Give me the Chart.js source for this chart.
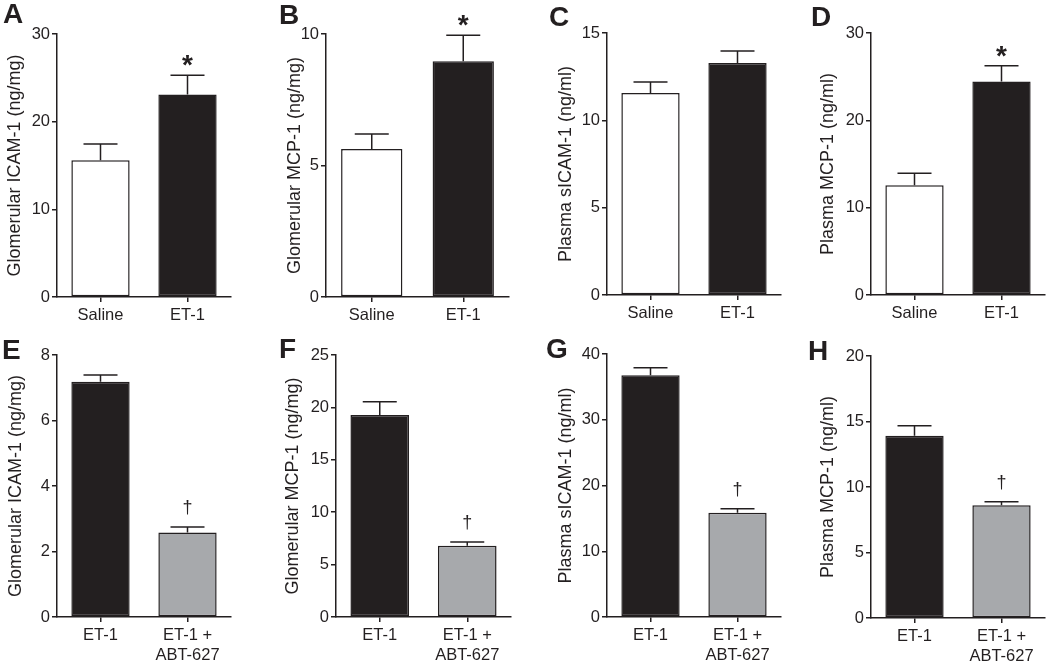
<!DOCTYPE html>
<html>
<head>
<meta charset="utf-8">
<script src="https://cdn.jsdelivr.net/npm/chart.js@4.4.1/dist/chart.umd.min.js"></script>
<style>
  body { margin: 0; background: #fff; width: 1050px; height: 668px; overflow: hidden; position: relative; }
  .box { position: absolute; }
  .tag { position: absolute; font: bold 28px "Liberation Sans", Arial, sans-serif; line-height: 1; color: #231f20; }
</style>
</head>
<body>
<script>
// groups on the x axis
const topGroups = ['Saline', 'ET-1'];
const bottomGroups = ['ET-1', ['ET-1 +', 'ABT-627']];

// means and SEM
const glomIcamMean = [15.6, 23.1];   const glomIcamSem = [1.85, 2.2];
const glomMcpMean = [5.63, 8.96];    const glomMcpSem = [0.57, 0.99];
const plasIcamMean = [11.56, 13.28]; const plasIcamSem = [0.64, 0.69];
const plasMcpMean = [12.58, 24.45];  const plasMcpSem = [1.37, 1.8];
const abtGlomIcamMean = [7.18, 2.58];  const abtGlomIcamSem = [0.21, 0.17];
const abtGlomMcpMean = [19.27, 6.81];  const abtGlomMcpSem = [1.28, 0.35];
const abtPlasIcamMean = [36.75, 15.84]; const abtPlasIcamSem = [1.15, 0.61];
const abtPlasMcpMean = [13.91, 8.6];   const abtPlasMcpSem = [0.76, 0.28];

// axis maxima / steps
const yMax = [30, 10, 15, 30, 8, 25, 40, 20];
const yStep = [10, 5, 5, 10, 2, 5, 10, 5];

const titles = [
  'Glomerular ICAM-1 (ng/mg)', 'Glomerular MCP-1 (ng/mg)', 'Plasma sICAM-1 (ng/ml)', 'Plasma MCP-1 (ng/ml)',
  'Glomerular ICAM-1 (ng/mg)', 'Glomerular MCP-1 (ng/mg)', 'Plasma sICAM-1 (ng/ml)', 'Plasma MCP-1 (ng/ml)'
];
const letters = ['A', 'B', 'C', 'D', 'E', 'F', 'G', 'H'];
const topMarks = ['', '*'];
const bottomMarks = ['', '†'];

const INK = '#231f20';
const FONT = '"Liberation Sans", Arial, sans-serif';

// where each panel sits on the page
const boxes = [
  { L: 0,   top: 0,   axisX: 57,  axisEnd: 232,  topY: 34,  zeroY: 297 },
  { L: 280, top: 0,   axisX: 326, axisEnd: 510,  topY: 34,  zeroY: 297 },
  { L: 551, top: 0,   axisX: 607, axisEnd: 782,  topY: 33,  zeroY: 295 },
  { L: 813, top: 0,   axisX: 871, axisEnd: 1046, topY: 33,  zeroY: 295 },
  { L: 1,   top: 334, axisX: 57,  axisEnd: 232,  topY: 355, zeroY: 617 },
  { L: 278, top: 334, axisX: 336, axisEnd: 512,  topY: 355, zeroY: 617 },
  { L: 551, top: 334, axisX: 607, axisEnd: 782,  topY: 354, zeroY: 617 },
  { L: 813, top: 334, axisX: 871, axisEnd: 1046, topY: 356, zeroY: 618 }
];
const tagPos = [[3, 0], [279, 1], [549, 3], [811, 3], [2, 336], [279, 335], [546, 335], [808, 337]];

const panels = [
  { groups: topGroups, mean: glomIcamMean, sem: glomIcamSem, marks: topMarks },
  { groups: topGroups, mean: glomMcpMean, sem: glomMcpSem, marks: topMarks },
  { groups: topGroups, mean: plasIcamMean, sem: plasIcamSem, marks: ['', ''] },
  { groups: topGroups, mean: plasMcpMean, sem: plasMcpSem, marks: topMarks },
  { groups: bottomGroups, mean: abtGlomIcamMean, sem: abtGlomIcamSem, marks: bottomMarks },
  { groups: bottomGroups, mean: abtGlomMcpMean, sem: abtGlomMcpSem, marks: bottomMarks },
  { groups: bottomGroups, mean: abtPlasIcamMean, sem: abtPlasIcamSem, marks: bottomMarks },
  { groups: bottomGroups, mean: abtPlasMcpMean, sem: abtPlasMcpSem, marks: bottomMarks }
];

// error bars + significance marks
const errorBars = {
  id: 'errorBars',
  afterDatasetsDraw(chart, args, opts) {
    const ctx = chart.ctx;
    const y = chart.scales.y;
    const meta = chart.getDatasetMeta(0);
    ctx.save();
    ctx.strokeStyle = INK;
    ctx.lineWidth = 1.5;
    meta.data.forEach((bar, i) => {
      const yt = y.getPixelForValue(opts.mean[i] + opts.sem[i]);
      ctx.beginPath();
      ctx.moveTo(bar.x, bar.y);
      ctx.lineTo(bar.x, yt);
      ctx.moveTo(bar.x - 17, yt);
      ctx.lineTo(bar.x + 17, yt);
      ctx.stroke();
      const m = opts.marks[i];
      if (m) {
        ctx.fillStyle = INK;
        ctx.textAlign = 'center';
        if (m === '*') {
          ctx.font = 'bold 28px ' + FONT;
          ctx.textBaseline = 'alphabetic';
          ctx.fillText(m, bar.x, yt - 1);
        } else {
          ctx.font = '18px ' + FONT;
          ctx.textBaseline = 'bottom';
          ctx.fillText(m, bar.x, yt - 10);
        }
      }
    });
    ctx.restore();
  }
};

panels.forEach((p, k) => {
  const b = boxes[k];
  const wrap = document.createElement('div');
  wrap.className = 'box';
  wrap.style.left = b.L + 'px';
  wrap.style.top = b.top + 'px';
  wrap.style.width = (b.axisEnd - b.L) + 'px';
  wrap.style.height = '334px';
  const cv = document.createElement('canvas');
  wrap.appendChild(cv);
  document.body.appendChild(wrap);

  const tag = document.createElement('div');
  tag.className = 'tag';
  tag.textContent = letters[k];
  tag.style.left = tagPos[k][0] + 'px';
  tag.style.top = tagPos[k][1] + 'px';
  document.body.appendChild(tag);

  const fills = k < 4 ? ['#ffffff', INK] : [INK, '#a7a9ac'];

  new Chart(cv, {
    type: 'bar',
    data: {
      labels: p.groups,
      datasets: [{
        data: p.mean,
        backgroundColor: fills,
        borderColor: INK,
        borderWidth: 1.5,
        borderSkipped: false,
        barPercentage: 0.67,
        categoryPercentage: 1
      }]
    },
    options: {
      responsive: true,
      maintainAspectRatio: false,
      animation: false,
      devicePixelRatio: 1,
      layout: { padding: { top: b.topY - b.top, right: 1, bottom: 0, left: 0 } },
      plugins: {
        legend: { display: false },
        tooltip: { enabled: false },
        errorBars: { mean: p.mean, sem: p.sem, marks: p.marks }
      },
      scales: {
        x: {
          offset: true,
          grid: { drawOnChartArea: false, drawTicks: true, tickLength: 5, offset: false, color: INK, lineWidth: 1.5 },
          border: { color: INK, width: 1.5 },
          ticks: { color: INK, font: { family: FONT, size: 16.5, lineHeight: 1.25 }, padding: 3, maxRotation: 0, autoSkip: false },
          afterFit: s => { s.height = 334 - (b.zeroY - b.top); }
        },
        y: {
          min: 0,
          max: yMax[k],
          grid: { drawOnChartArea: false, drawTicks: true, tickLength: 5, color: INK, lineWidth: 1.5 },
          border: { color: INK, width: 1.5 },
          ticks: { stepSize: yStep[k], color: INK, font: { family: FONT, size: 16.5 }, padding: 2 },
          title: { display: true, text: titles[k], color: INK, font: { family: FONT, size: 18 }, padding: { top: 4, bottom: 0 } },
          afterFit: s => { s.width = b.axisX - b.L; }
        }
      }
    },
    plugins: [errorBars]
  });
});
</script>
</body>
</html>
